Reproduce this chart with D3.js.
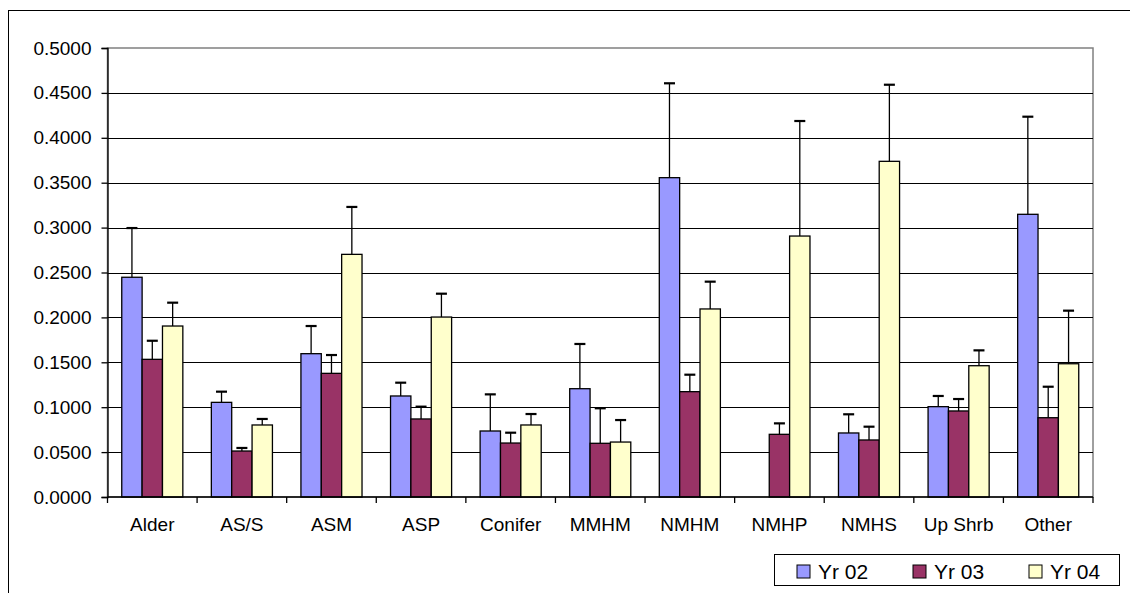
<!DOCTYPE html>
<html>
<head>
<meta charset="utf-8">
<script src="https://cdn.jsdelivr.net/npm/d3@7"></script>
<style>
  html, body { margin: 0; padding: 0; background: #fff; }
  svg { display: block; }
  text { font-family: "Liberation Sans", Arial, sans-serif; fill: #000; }
</style>
</head>
<body>
<svg id="chart" width="1130" height="593"></svg>
<script>
const categories = ["Alder", "AS/S", "ASM", "ASP", "Conifer", "MMHM", "NMHM", "NMHP", "NMHS", "Up Shrb", "Other"];
const seriesNames = ["Yr 02", "Yr 03", "Yr 04"];
const seriesColors = ["#9999FF", "#993366", "#FFFFCC"];
const yr02 = [0.2447, 0.1054, 0.1596, 0.1125, 0.0735, 0.1206, 0.3556, 0.0000, 0.0713, 0.1006, 0.3148];
const yr03 = [0.1533, 0.0512, 0.1377, 0.0869, 0.0601, 0.0598, 0.1173, 0.0698, 0.0635, 0.0958, 0.0883];
const yr04 = [0.1904, 0.0802, 0.2702, 0.2004, 0.0802, 0.0612, 0.2094, 0.2906, 0.3738, 0.1462, 0.1484];
const yr02Upper = [0.2995, 0.1173, 0.1904, 0.1273, 0.1143, 0.1704, 0.4607, null, 0.0921, 0.1125, 0.4235];
const yr03Upper = [0.1740, 0.0546, 0.1581, 0.1006, 0.0716, 0.0988, 0.1362, 0.0820, 0.0783, 0.1091, 0.1228];
const yr04Upper = [0.2164, 0.0869, 0.3230, 0.2264, 0.0924, 0.0857, 0.2398, 0.4187, 0.4591, 0.1633, 0.2075];
const yTicks = [0, 0.05, 0.1, 0.15, 0.2, 0.25, 0.3, 0.35, 0.4, 0.45, 0.5];

const values = [yr02, yr03, yr04];
const uppers = [yr02Upper, yr03Upper, yr04Upper];

const svg = d3.select("#chart");
const plot = { left: 107.5, right: 1093, top: 48, bottom: 497 };

// outer chart frame (extends beyond the visible picture)
svg.append("rect")
  .attr("x", 8.5).attr("y", 10.5).attr("width", 1300).attr("height", 800)
  .attr("fill", "#fff").attr("stroke", "#000").attr("stroke-width", 1);

const x0 = d3.scaleBand().domain(categories).range([plot.left, plot.right]).padding(0);
const x1 = d3.scaleBand().domain(seriesNames).range([0, x0.bandwidth()]).paddingInner(0).paddingOuter(0.7);
const y = d3.scaleLinear().domain([0, 0.5]).range([plot.bottom, plot.top]);

// plot area border (gray)
svg.append("rect")
  .attr("x", plot.left).attr("y", plot.top)
  .attr("width", plot.right - plot.left).attr("height", plot.bottom - plot.top)
  .attr("fill", "none").attr("stroke", "#808080").attr("stroke-width", 1.5);

// gridlines
svg.append("g").selectAll("line")
  .data(yTicks.filter(t => t > 0 && t < 0.5))
  .join("line")
  .attr("x1", plot.left).attr("x2", plot.right)
  .attr("y1", d => Math.round(y(d)) + 0.5).attr("y2", d => Math.round(y(d)) + 0.5)
  .attr("stroke", "#000").attr("stroke-width", 1);

// bars
const groups = svg.append("g").selectAll("g")
  .data(categories)
  .join("g")
  .attr("transform", d => `translate(${x0(d)},0)`);

seriesNames.forEach((s, si) => {
  groups.append("rect")
    .filter((c, ci) => values[si][ci] > 0)
    .attr("x", (c) => x1(s))
    .attr("y", (c, ci) => y(values[si][categories.indexOf(c)]))
    .attr("width", x1.bandwidth())
    .attr("height", c => y(0) - y(values[si][categories.indexOf(c)]))
    .attr("fill", seriesColors[si])
    .attr("stroke", "#000").attr("stroke-width", 1.3);
});

// error bars
seriesNames.forEach((s, si) => {
  categories.forEach((c, ci) => {
    const up = uppers[si][ci];
    if (up == null) return;
    const cx = x0(c) + x1(s) + x1.bandwidth() / 2;
    const g = svg.append("g").attr("stroke", "#000");
    g.append("line")
      .attr("x1", cx).attr("x2", cx)
      .attr("y1", y(values[si][ci])).attr("y2", y(up))
      .attr("stroke-width", 1.3);
    g.append("line")
      .attr("x1", cx - 5.5).attr("x2", cx + 5.5)
      .attr("y1", y(up)).attr("y2", y(up))
      .attr("stroke-width", 2.2);
  });
});

// y axis
const yAxis = d3.axisLeft(y).tickValues(yTicks).tickFormat(d3.format(".4f")).tickSize(6).tickPadding(10);
const ya = svg.append("g").attr("transform", `translate(${plot.left},0)`).call(yAxis);
ya.select(".domain").attr("stroke", "#000").attr("stroke-width", 1.3);
ya.selectAll(".tick line").attr("stroke", "#000").attr("stroke-width", 1.3);
ya.selectAll(".tick text").style("font-size", "19px").style("font-family", "Liberation Sans, Arial, sans-serif");

// x axis with ticks at category boundaries
const xa = svg.append("g").attr("transform", `translate(0,${plot.bottom})`);
xa.append("line").attr("x1", plot.left).attr("x2", plot.right).attr("y1", 0).attr("y2", 0)
  .attr("stroke", "#000").attr("stroke-width", 1.5);
const boundaries = categories.map(c => x0(c)).concat([plot.right]);
xa.selectAll("line.tk").data(boundaries).join("line").attr("class", "tk")
  .attr("x1", d => d).attr("x2", d => d).attr("y1", 0).attr("y2", 6)
  .attr("stroke", "#000").attr("stroke-width", 1.3);
xa.selectAll("text").data(categories).join("text")
  .attr("x", d => x0(d) + x0.bandwidth() / 2)
  .attr("y", 34)
  .attr("text-anchor", "middle")
  .style("font-size", "19px")
  .text(d => d);

// legend
const legend = svg.append("g");
legend.append("rect")
  .attr("x", 774.5).attr("y", 554.5).attr("width", 345).attr("height", 31)
  .attr("fill", "#fff").attr("stroke", "#000").attr("stroke-width", 1);
const legendX = [797, 913, 1029];
seriesNames.forEach((s, i) => {
  legend.append("rect")
    .attr("x", legendX[i]).attr("y", 565).attr("width", 13).attr("height", 13)
    .attr("fill", seriesColors[i]).attr("stroke", "#000").attr("stroke-width", 1);
  legend.append("text")
    .attr("x", legendX[i] + 21).attr("y", 579)
    .style("font-size", "21px")
    .text(s);
});
</script>
</body>
</html>
